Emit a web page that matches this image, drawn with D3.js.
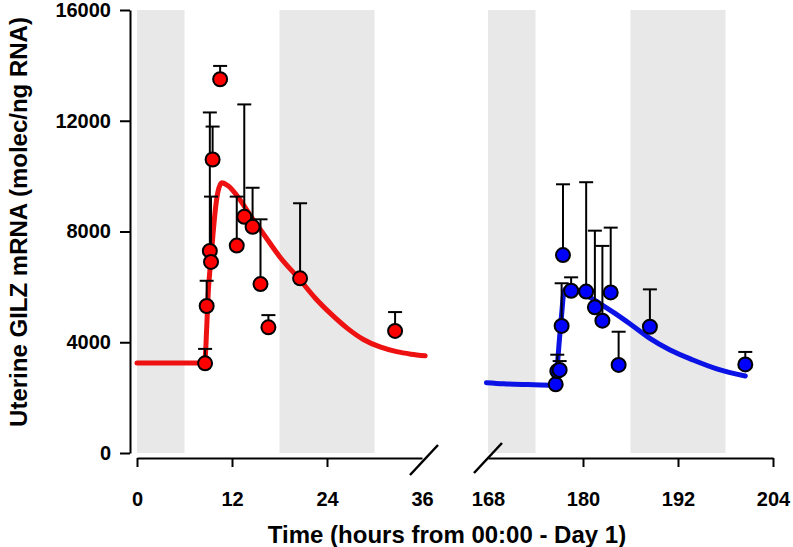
<!DOCTYPE html>
<html><head><meta charset="utf-8">
<script src="https://cdn.jsdelivr.net/npm/d3@7"></script>
<style>
body{margin:0;background:#fff}
text{font-family:"Liberation Sans",Arial,Helvetica,sans-serif;font-weight:bold;fill:#000}
</style>
</head><body>
<svg id="chart" width="793" height="547"></svg>
<script>
// ---- data ----
const yTicks = [0, 4000, 8000, 12000, 16000];
const xTicksLeft = [0, 12, 24, 36];
const xTicksRight = [168, 180, 192, 204];
const darkLeft = [[0, 6], [18, 30]];
const darkRight = [[168, 174], [186, 198]];

const redTime = [8.6, 8.8, 9.2, 9.35, 9.55, 10.5, 12.6, 13.55, 14.6, 15.6, 16.6, 20.6, 32.6];
const redMean = [3240, 5310, 7300, 6900, 10600, 13500, 7490, 8530, 8170, 6100, 4540, 6310, 4410];
const redSem  = [520, 910, 5000, 2360, 1190, 480, 1770, 4060, 1410, 2340, 440, 2710, 680];

const blueTime = [176.55, 176.75, 177.05, 177.3, 177.47, 178.5, 180.4, 181.5, 182.45, 183.5, 184.5, 188.45, 200.5];
const blueMean = [2480, 2960, 3000, 4590, 7150, 5860, 5830, 5260, 4780, 5800, 3180, 4560, 3200];
const blueSem  = [0, 590, 320, 1540, 2555, 485, 3950, 2770, 2700, 2340, 1200, 1350, 450];

const redFitTime = [0, 4, 8.3, 8.6, 8.8, 9.0, 9.3, 9.6, 9.9, 10.2, 10.7, 11.5, 13, 14.5, 16, 18, 20.6, 22.5, 24.4, 26.5, 28.6, 30.7, 32.8, 34.6, 36.4];
const redFitVal  = [3250, 3250, 3250, 3400, 4500, 5800, 6900, 7900, 8800, 9400, 9760, 9650, 9150, 8500, 7900, 7100, 6250, 5600, 5050, 4520, 4100, 3830, 3660, 3570, 3510];

const blueFitTime = [167.8, 170, 173, 176.4, 176.7, 177.05, 177.3, 177.56, 177.9, 179, 180, 181, 182, 184, 186, 188.4, 191, 193.9, 197, 200.5];
const blueFitVal  = [2540, 2500, 2470, 2445, 3000, 4200, 5000, 5768, 5950, 5900, 5750, 5600, 5420, 5050, 4650, 4150, 3720, 3360, 3030, 2780];

const yTitle = "Uterine GILZ mRNA (molec/ng RNA)";
const xTitle = "Time (hours from 00:00 - Day 1)";

// ---- scales ----
const svg = d3.select("#chart");
const y = d3.scaleLinear().domain([0, 16000]).range([453, 10]);
const xL = d3.scaleLinear().domain([0, 36]).range([137, 422]);
const xR = d3.scaleLinear().domain([168, 204]).range([488, 773]);

// shaded bands
const bands = darkLeft.map(d => ({x0: xL(d[0]), x1: xL(d[1])}))
  .concat(darkRight.map(d => ({x0: xR(d[0]), x1: xR(d[1])})));
svg.append("g").selectAll("rect").data(bands).join("rect")
  .attr("x", d => d.x0).attr("width", d => d.x1 - d.x0)
  .attr("y", y(16000)).attr("height", y(0) - y(16000))
  .attr("fill", "#e8e8e8");

// fitted curves
const line = (xs) => d3.line().x(d => xs(d[0])).y(d => y(d[1])).curve(d3.curveMonotoneX);
svg.append("path").datum(redFitTime.map((t, i) => [t, redFitVal[i]]))
  .attr("d", line(xL)).attr("fill", "none").attr("stroke", "#ee1111")
  .attr("stroke-width", 5).attr("stroke-linecap", "round");
svg.append("path").datum(blueFitTime.map((t, i) => [t, blueFitVal[i]]))
  .attr("d", line(xR)).attr("fill", "none").attr("stroke", "#0b12e6")
  .attr("stroke-width", 5).attr("stroke-linecap", "round");

// points + error bars
function drawSeries(times, means, sems, xs, fill) {
  const data = times.map((t, i) => ({t, m: means[i], s: sems[i]}));
  const g = svg.append("g");
  const eb = g.selectAll("g.eb").data(data.filter(d => d.s > 0)).join("g")
    .attr("stroke", "#000").attr("stroke-width", 2);
  eb.append("line").attr("x1", d => xs(d.t)).attr("x2", d => xs(d.t))
    .attr("y1", d => y(d.m)).attr("y2", d => y(d.m + d.s));
  eb.append("line").attr("x1", d => xs(d.t) - 7).attr("x2", d => xs(d.t) + 7)
    .attr("y1", d => y(d.m + d.s)).attr("y2", d => y(d.m + d.s));
  g.selectAll("circle").data(data).join("circle")
    .attr("cx", d => xs(d.t)).attr("cy", d => y(d.m)).attr("r", 7)
    .attr("fill", fill).attr("stroke", "#000").attr("stroke-width", 2);
}
drawSeries(redTime, redMean, redSem, xL, "#ff0000");
drawSeries(blueTime, blueMean, blueSem, xR, "#0000ff");

// axes
const yAxis = svg.append("g").attr("transform", "translate(130,0)")
  .call(d3.axisLeft(y).tickValues(yTicks).tickSize(10).tickPadding(9).tickSizeOuter(0).tickFormat(d3.format("d")));
const axL = svg.append("g").attr("transform", "translate(0,458)")
  .call(d3.axisBottom(xL).tickValues(xTicksLeft).tickSize(9).tickPadding(25).tickSizeOuter(0));
const axR = svg.append("g").attr("transform", "translate(0,458)")
  .call(d3.axisBottom(xR).tickValues(xTicksRight).tickSize(9).tickPadding(25).tickSizeOuter(0));
[yAxis, axL, axR].forEach(a => {
  a.select(".domain").attr("stroke", "#000").attr("stroke-width", 2);
  a.selectAll(".tick line").attr("stroke", "#000").attr("stroke-width", 2);
  a.selectAll("text").attr("font-size", 20).attr("font-family", null).attr("fill", "#000");
});
axL.selectAll(".tick").filter(d => d === 36).select("line").remove();
axR.selectAll(".tick").filter(d => d === 168).select("line").remove();

// break slashes
[[xL(36) + 2, 460], [xR(168), 458]].forEach(([cx, cy]) => {
  svg.append("line").attr("x1", cx - 14).attr("y1", cy + 15).attr("x2", cx + 14).attr("y2", cy - 15)
    .attr("stroke", "#000").attr("stroke-width", 2.5);
});

// titles
svg.append("text").attr("transform", "translate(27,222) rotate(-90)")
  .attr("text-anchor", "middle").attr("font-size", 24).text(yTitle);
svg.append("text").attr("x", 447).attr("y", 543)
  .attr("text-anchor", "middle").attr("font-size", 24).text(xTitle);
</script>
</body></html>
